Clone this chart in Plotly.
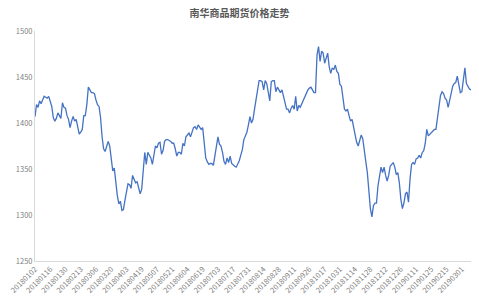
import pandas as pd
import plotly.graph_objects as go

title = "南华商品期货价格走势"

holidays = ["2018-01-01", "2018-02-15", "2018-02-16", "2018-02-19", "2018-02-20", "2018-02-21",
            "2018-04-05", "2018-04-06", "2018-04-30", "2018-05-01", "2018-06-18", "2018-09-24",
            "2018-10-01", "2018-10-02", "2018-10-03", "2018-10-04", "2018-10-05", "2018-12-31",
            "2019-01-01", "2019-02-04", "2019-02-05", "2019-02-06", "2019-02-07", "2019-02-08"]

values = [
    1407, 1420, 1417, 1424, 1421, 1425, 1429, 1428, 1427, 1429,
    1424, 1418, 1406, 1402, 1405, 1411, 1408, 1405, 1422, 1417,
    1416, 1408, 1404, 1395, 1402, 1407, 1402, 1404, 1396, 1388,
    1390, 1393, 1408, 1408, 1420, 1439, 1436, 1433, 1433, 1432,
    1425, 1420, 1418, 1406, 1385, 1372, 1369, 1375, 1380, 1375,
    1360, 1348, 1351, 1335, 1321, 1312, 1315, 1305, 1306, 1316,
    1325, 1334, 1333, 1329, 1343, 1338, 1335, 1336, 1330, 1323,
    1328, 1350, 1368, 1355, 1368, 1365, 1362, 1355, 1366, 1375,
    1373, 1378, 1379, 1366, 1370, 1380, 1382, 1382, 1381, 1380,
    1378, 1378, 1372, 1364, 1368, 1368, 1366, 1378, 1375, 1385,
    1387, 1389, 1385, 1390, 1395, 1396, 1393, 1398, 1395, 1393,
    1395, 1380, 1362, 1358, 1355, 1356, 1356, 1354, 1365, 1378,
    1385, 1377, 1375, 1368, 1358, 1355, 1362, 1357, 1364, 1356,
    1354, 1353, 1352, 1355, 1359, 1365, 1371, 1382, 1386, 1390,
    1398, 1407, 1400, 1404, 1415, 1425, 1436, 1446, 1446, 1445,
    1436, 1446, 1443, 1434, 1424, 1445, 1446, 1446, 1434, 1439,
    1436, 1433, 1436, 1429, 1422, 1415, 1415, 1411, 1416, 1419,
    1415, 1429, 1413, 1419, 1417, 1421, 1424, 1427, 1433, 1436,
    1438, 1439, 1436, 1433, 1433, 1474, 1483, 1467, 1478, 1476,
    1465, 1470, 1476, 1461, 1454, 1460, 1458, 1463, 1456, 1454,
    1442, 1440, 1428, 1415, 1413, 1415, 1408, 1402, 1404, 1397,
    1387, 1379, 1375, 1381, 1387, 1383, 1368, 1358, 1346, 1328,
    1307, 1298, 1310, 1313, 1313, 1332, 1343, 1352, 1346, 1352,
    1343, 1337, 1343, 1353, 1355, 1357, 1352, 1344, 1346, 1335,
    1317, 1307, 1313, 1323, 1325, 1314, 1339, 1355, 1357, 1355,
    1361, 1362, 1365, 1362, 1368, 1370, 1378, 1393, 1386, 1388,
    1389, 1391, 1393, 1393, 1407, 1420, 1430, 1434, 1432, 1427,
    1425, 1417, 1425, 1429, 1440, 1443, 1444, 1451, 1442, 1433,
    1434, 1448, 1460, 1443, 1440, 1437, 1436,
]

tick_labels = ["20180102", "20180116", "20180130", "20180213", "20180306", "20180320",
               "20180403", "20180419", "20180507", "20180521", "20180604", "20180619",
               "20180703", "20180717", "20180731", "20180814", "20180828", "20180911",
               "20180926", "20181017", "20181031", "20181114", "20181128", "20181212",
               "20181226", "20190111", "20190125", "20190215", "20190301"]

days = pd.bdate_range("2018-01-02", "2019-04-30")
days = [d for d in days if d.strftime("%Y-%m-%d") not in holidays]
dates = [d.strftime("%Y%m%d") for d in days][:len(values)]

fig = go.Figure()
fig.add_trace(go.Scatter(
    x=dates, y=values, mode="lines",
    line=dict(color="#4472C4", width=1.3),
    showlegend=False, hoverinfo="x+y",
))

font_family = "Noto Sans CJK SC, Noto Sans, sans-serif"
fig.update_layout(
    width=479, height=303,
    margin=dict(l=26, r=8, t=31, b=40),
    paper_bgcolor="white", plot_bgcolor="white",
    font=dict(family=font_family, color="#595959", size=8),
    title=dict(text="<b>" + title + "</b>", x=0.5, xanchor="center", y=0.955, yanchor="middle",
               font=dict(size=10, color="#595959", family=font_family)),
)
fig.update_xaxes(
    type="category", categoryorder="array", categoryarray=dates,
    range=[0, len(values) - 1],
    tickmode="array", tickvals=tick_labels, ticktext=tick_labels,
    tickangle=-45, tickfont=dict(size=7.5, color="#7f7f7f"),
    showgrid=False, showline=True, linecolor="#d9d9d9", linewidth=1,
    ticks="", zeroline=False,
)
fig.update_yaxes(
    range=[1250, 1500], dtick=50, tick0=1250,
    tickfont=dict(size=7.5, color="#7f7f7f"),
    showgrid=False, showline=True, linecolor="#d9d9d9", linewidth=1,
    ticks="", zeroline=False,
)

fig.write_html("out.html")
